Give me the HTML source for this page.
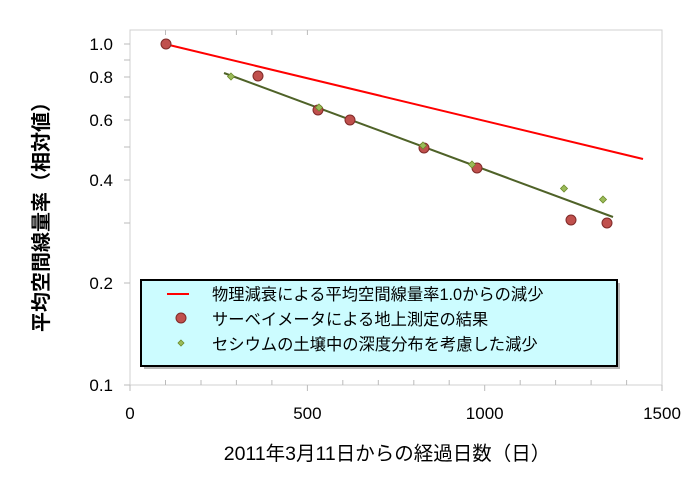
<!DOCTYPE html>
<html><head><meta charset="utf-8"><style>
body{margin:0;background:#fff;}
svg text{font-family:"Liberation Sans","Noto Sans CJK JP",sans-serif;}
</style></head><body>
<svg width="700" height="480" viewBox="0 0 700 480" xmlns="http://www.w3.org/2000/svg">
<rect width="700" height="480" fill="#fff"/>
<rect x="130" y="30" width="532" height="355" fill="none" stroke="#d0d0d0" stroke-width="1"/>
<g stroke="#bbb" stroke-width="1">
<line x1="124" y1="44" x2="130" y2="44"/><line x1="124" y1="60" x2="130" y2="60"/><line x1="124" y1="77" x2="130" y2="77"/><line x1="124" y1="97" x2="130" y2="97"/><line x1="124" y1="120" x2="130" y2="120"/><line x1="124" y1="147" x2="130" y2="147"/><line x1="124" y1="180" x2="130" y2="180"/><line x1="124" y1="223" x2="130" y2="223"/><line x1="124" y1="283" x2="130" y2="283"/><line x1="124" y1="385" x2="130" y2="385"/>
<line x1="130" y1="385" x2="130" y2="391"/><line x1="165.5" y1="380" x2="165.5" y2="385"/><line x1="201" y1="380" x2="201" y2="385"/><line x1="236.4" y1="380" x2="236.4" y2="385"/><line x1="271.9" y1="380" x2="271.9" y2="385"/><line x1="307.4" y1="385" x2="307.4" y2="391"/><line x1="342.8" y1="380" x2="342.8" y2="385"/><line x1="378.3" y1="380" x2="378.3" y2="385"/><line x1="413.8" y1="380" x2="413.8" y2="385"/><line x1="449.2" y1="380" x2="449.2" y2="385"/><line x1="484.7" y1="385" x2="484.7" y2="391"/><line x1="520.2" y1="380" x2="520.2" y2="385"/><line x1="555.6" y1="380" x2="555.6" y2="385"/><line x1="591.1" y1="380" x2="591.1" y2="385"/><line x1="626.6" y1="380" x2="626.6" y2="385"/><line x1="662" y1="385" x2="662" y2="391"/>
<line x1="165.5" y1="30" x2="165.5" y2="35"/><line x1="236.4" y1="30" x2="236.4" y2="35"/><line x1="271.9" y1="30" x2="271.9" y2="35"/><line x1="307.4" y1="30" x2="307.4" y2="35"/>
</g>
<g font-size="17" fill="#000" text-anchor="end">
<text x="113" y="50">1.0</text><text x="113" y="83">0.8</text><text x="113" y="126">0.6</text><text x="113" y="186">0.4</text><text x="113" y="289">0.2</text><text x="113" y="391">0.1</text>
</g>
<g font-size="17" fill="#000" text-anchor="middle">
<text x="130" y="419">0</text><text x="307.4" y="419">500</text><text x="484.7" y="419">1000</text><text x="662" y="419">1500</text>
</g>
<text x="387" y="460" font-size="19.5" text-anchor="middle">2011年3月11日からの経過日数（日）</text>
<text transform="translate(48,212) rotate(-90)" font-size="20" font-weight="bold" text-anchor="middle">平均空間線量率（相対値）</text>
<line x1="165" y1="44" x2="643" y2="159" stroke="#ff0000" stroke-width="2"/>
<line x1="224" y1="73" x2="613" y2="217" stroke="#4f6228" stroke-width="2"/>
<g fill="#c0504d" stroke="#7f2a28" stroke-width="1">
<circle cx="166" cy="44" r="5"/><circle cx="258" cy="76" r="5"/><circle cx="318" cy="110" r="5"/><circle cx="350" cy="120" r="5"/><circle cx="424" cy="148" r="5"/><circle cx="477" cy="168" r="5"/><circle cx="571" cy="220" r="5"/><circle cx="607" cy="223" r="5"/>
</g>
<g fill="#9bbb59" stroke="#6b8a2a" stroke-width="0.8">
<path d="M231 73l3.5 3.5-3.5 3.5-3.5-3.5z"/><path d="M319 104l3.5 3.5-3.5 3.5-3.5-3.5z"/><path d="M423 142l3.5 3.5-3.5 3.5-3.5-3.5z"/><path d="M472 161l3.5 3.5-3.5 3.5-3.5-3.5z"/><path d="M564 185l3.5 3.5-3.5 3.5-3.5-3.5z"/><path d="M603 196l3.5 3.5-3.5 3.5-3.5-3.5z"/>
</g>
<rect x="144" y="283" width="476" height="86" fill="#888" opacity="0.6"/>
<rect x="141" y="280" width="476" height="86" fill="#ccfcff" stroke="#000" stroke-width="2"/>
<line x1="167" y1="294" x2="189" y2="294" stroke="#ff0000" stroke-width="2"/>
<circle cx="181" cy="318" r="5" fill="#c0504d" stroke="#7f2a28"/>
<path d="M181 340l3 3-3 3-3-3z" fill="#9bbb59" stroke="#6b8a2a" stroke-width="0.8"/>
<g font-size="16.3" fill="#000">
<text x="212" y="300">物理減衰による平均空間線量率1.0からの減少</text>
<text x="212" y="325">サーベイメータによる地上測定の結果</text>
<text x="212" y="350">セシウムの土壌中の深度分布を考慮した減少</text>
</g>
</svg>
</body></html>
